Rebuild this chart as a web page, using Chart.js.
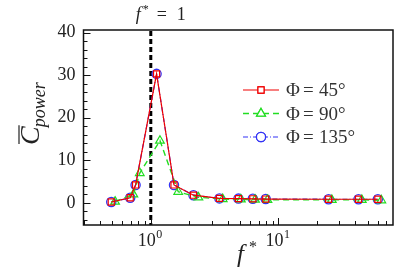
<!DOCTYPE html>
<html>
<head>
<meta charset="utf-8">
<script src="https://cdn.jsdelivr.net/npm/chart.js@4/dist/chart.umd.min.js"></script>
<style>
  html, body { margin: 0; padding: 0; background: #fff; }
  #wrap { width: 407px; height: 272px; position: relative; }
</style>
</head>
<body>
<div id="wrap"><canvas id="c"></canvas></div>
<script>
// reduced frequency f* for the 45/135 cases and the 90 case
const fA = [0.49, 0.69, 0.76, 1.11, 1.52, 2.16, 3.45, 4.86, 6.3, 7.95, 24.7, 42.4, 60.1];
const fB = [0.525, 0.73, 0.82, 1.18, 1.64, 2.36, 3.66, 5.08, 6.56, 8.2, 26.2, 45, 64];
// mean power coefficient
const cp45 = [0.2, 1.2, 4.2, 30.3, 4.2, 1.8, 1.05, 1.0, 0.95, 0.9, 0.85, 0.85, 0.85];
const cp90 = [0.3, 2.0, 7.0, 14.6, 2.6, 1.3, 0.9, 0.8, 0.75, 0.7, 0.7, 0.7, 0.6];
const cp135 = [0.2, 1.2, 4.2, 30.3, 4.2, 1.8, 1.05, 1.0, 0.95, 0.9, 0.85, 0.85, 0.85];
const phiLabels = ['45°', '90°', '135°'];

const yTicks = [0, 10, 20, 30, 40];
const yMinorStep = 2;
const xMajor = [1, 10];
const xMajorExp = ['0', '1'];
const xMinor = [0.3, 0.4, 0.5, 0.6, 0.7, 0.8, 0.9, 2, 3, 4, 5, 6, 7, 8, 9, 20, 30, 40, 50, 60, 70];
const fRef = 1;

const SERIF = '"Liberation Serif", "DejaVu Serif", serif';
const pts = (xs, ys) => xs.map((x, i) => ({ x: x, y: ys[i] }));

const decor = {
  id: 'decor',
  beforeDatasetsDraw(chart) {
    const { ctx, chartArea: a, scales: { x } } = chart;
    const px = x.getPixelForValue(fRef);
    ctx.save();
    ctx.strokeStyle = '#000';
    ctx.lineWidth = 3;
    ctx.setLineDash([5, 3]);
    ctx.beginPath();
    ctx.moveTo(px, a.top + 1);
    ctx.lineTo(px, a.bottom);
    ctx.stroke();
    ctx.restore();
  },
  afterDraw(chart) {
    const { ctx, chartArea: a, scales: { x, y } } = chart;
    ctx.save();
    // frame
    ctx.strokeStyle = '#111';
    ctx.lineWidth = 1.5;
    ctx.strokeRect(a.left, a.top, a.right - a.left, a.bottom - a.top);

    // y ticks (inward)
    ctx.lineWidth = 1;
    ctx.beginPath();
    for (let v = Math.ceil(y.min / yMinorStep) * yMinorStep; v <= y.max; v += yMinorStep) {
      const py = Math.round(y.getPixelForValue(v)) + 0.5;
      const len = yTicks.includes(v) ? 7 : 4;
      ctx.moveTo(a.left, py); ctx.lineTo(a.left + len, py);
    }
    // x ticks (inward)
    xMinor.forEach(v => {
      const p = Math.round(x.getPixelForValue(v)) + 0.5;
      ctx.moveTo(p, a.bottom); ctx.lineTo(p, a.bottom - 4);
    });
    xMajor.forEach(v => {
      const p = Math.round(x.getPixelForValue(v)) + 0.5;
      ctx.moveTo(p, a.bottom); ctx.lineTo(p, a.bottom - 7);
    });
    ctx.stroke();

    ctx.fillStyle = '#222';
    ctx.textBaseline = 'alphabetic';
    ctx.textAlign = 'left';
    // x tick labels 10^k
    xMajor.forEach((v, i) => {
      const p = x.getPixelForValue(v);
      ctx.font = '18px ' + SERIF;
      const wb = ctx.measureText('10').width;
      ctx.font = '12px ' + SERIF;
      const we = ctx.measureText(xMajorExp[i]).width;
      const x0 = p - (wb + we) / 2 - 1;
      ctx.font = '18px ' + SERIF;
      ctx.fillText('10', x0, a.bottom + 21);
      ctx.font = '12px ' + SERIF;
      ctx.fillText(xMajorExp[i], x0 + wb + 0.5, a.bottom + 13);
    });

    // x title f*
    ctx.font = 'italic 25px ' + SERIF;
    ctx.fillText('f', 237, 262);
    ctx.font = '16px ' + SERIF;
    ctx.fillText('*', 249, 252);

    // top label f* = 1
    const pr = x.getPixelForValue(fRef);
    ctx.font = 'italic 18px ' + SERIF;
    ctx.fillText('f', pr - 15, 20);
    ctx.font = '12px ' + SERIF;
    ctx.fillText('*', pr - 8, 13);
    ctx.font = '18px ' + SERIF;
    ctx.fillText('=', pr + 6, 20);
    ctx.fillText('1', pr + 26, 20);

    // y title: overline C with subscript power
    ctx.save();
    ctx.translate(39, 145);
    ctx.rotate(-Math.PI / 2);
    ctx.font = 'italic 28px ' + SERIF;
    ctx.fillText('C', 0, 0);
    const cw = ctx.measureText('C').width;
    ctx.strokeStyle = '#222';
    ctx.lineWidth = 1.2;
    ctx.beginPath();
    ctx.moveTo(1, -20); ctx.lineTo(cw + 1, -20);
    ctx.stroke();
    ctx.font = 'italic 18px ' + SERIF;
    ctx.fillText('power', cw - 1, 6);
    ctx.restore();

    // legend
    const rows = [90, 113.5, 137];
    chart.data.datasets.forEach((ds, i) => {
      const ry = rows[i];
      ctx.save();
      ctx.strokeStyle = ds.borderColor;
      ctx.lineWidth = ds.borderWidth;
      ctx.setLineDash(ds.borderDash || []);
      ctx.beginPath();
      ctx.moveTo(243, ry); ctx.lineTo(279, ry);
      ctx.stroke();
      ctx.setLineDash([]);
      ctx.fillStyle = '#fff';
      Chart.helpers.drawPoint(ctx, {
        pointStyle: ds.pointStyle, radius: ds.pointRadius, borderWidth: ds.pointBorderWidth, rotation: 0
      }, 261, ry);
      ctx.fill();
      ctx.strokeStyle = ds.borderColor;
      ctx.lineWidth = ds.pointBorderWidth;
      ctx.stroke();
      ctx.restore();
      ctx.fillStyle = '#333';
      ctx.font = '19px ' + SERIF;
      ctx.fillText('Φ', 286, ry + 6);
      ctx.fillText('=', 303, ry + 6);
      ctx.fillText(phiLabels[i], 319, ry + 6);
    });
    ctx.restore();
  }
};

new Chart(document.getElementById('c'), {
  type: 'scatter',
  data: {
    datasets: [
      {
        label: 'Φ = ' + phiLabels[0], data: pts(fA, cp45), showLine: true,
        borderColor: '#f00000', backgroundColor: 'rgba(0,0,0,0)', borderWidth: 1.2,
        pointStyle: 'rect', pointRadius: 4.3, pointBorderWidth: 1.2, pointBorderColor: '#f00000'
      },
      {
        label: 'Φ = ' + phiLabels[1], data: pts(fB, cp90), showLine: true,
        borderColor: '#22dd22', backgroundColor: 'rgba(0,0,0,0)', borderWidth: 1.4, borderDash: [6, 4],
        pointStyle: 'triangle', pointRadius: 5, pointBorderWidth: 1.2, pointBorderColor: '#22dd22'
      },
      {
        label: 'Φ = ' + phiLabels[2], data: pts(fA, cp135), showLine: true,
        borderColor: '#3333f5', backgroundColor: 'rgba(0,0,0,0)', borderWidth: 1.2, borderDash: [5, 2, 1, 2],
        pointStyle: 'circle', pointRadius: 4.6, pointBorderWidth: 1.3, pointBorderColor: '#3333f5'
      }
    ]
  },
  options: {
    responsive: true,
    maintainAspectRatio: false,
    animation: false,
    events: [],
    layout: { padding: { left: 0, top: 30, right: 14, bottom: 0 } },
    plugins: { legend: { display: false }, tooltip: { enabled: false } },
    scales: {
      x: {
        type: 'logarithmic', min: 0.297, max: 79,
        grid: { display: false, drawTicks: false },
        border: { display: false },
        ticks: { display: false },
        afterFit(s) { s.height = 47; }
      },
      y: {
        type: 'linear', min: -5.2, max: 40.6,
        grid: { display: false, drawTicks: false },
        border: { display: false },
        afterBuildTicks(s) { s.ticks = yTicks.map(v => ({ value: v })); },
        ticks: { color: '#222', padding: 8, font: { family: SERIF, size: 18 } },
        afterFit(s) { s.width = 83.5; }
      }
    }
  },
  plugins: [decor]
});
</script>
</body>
</html>
